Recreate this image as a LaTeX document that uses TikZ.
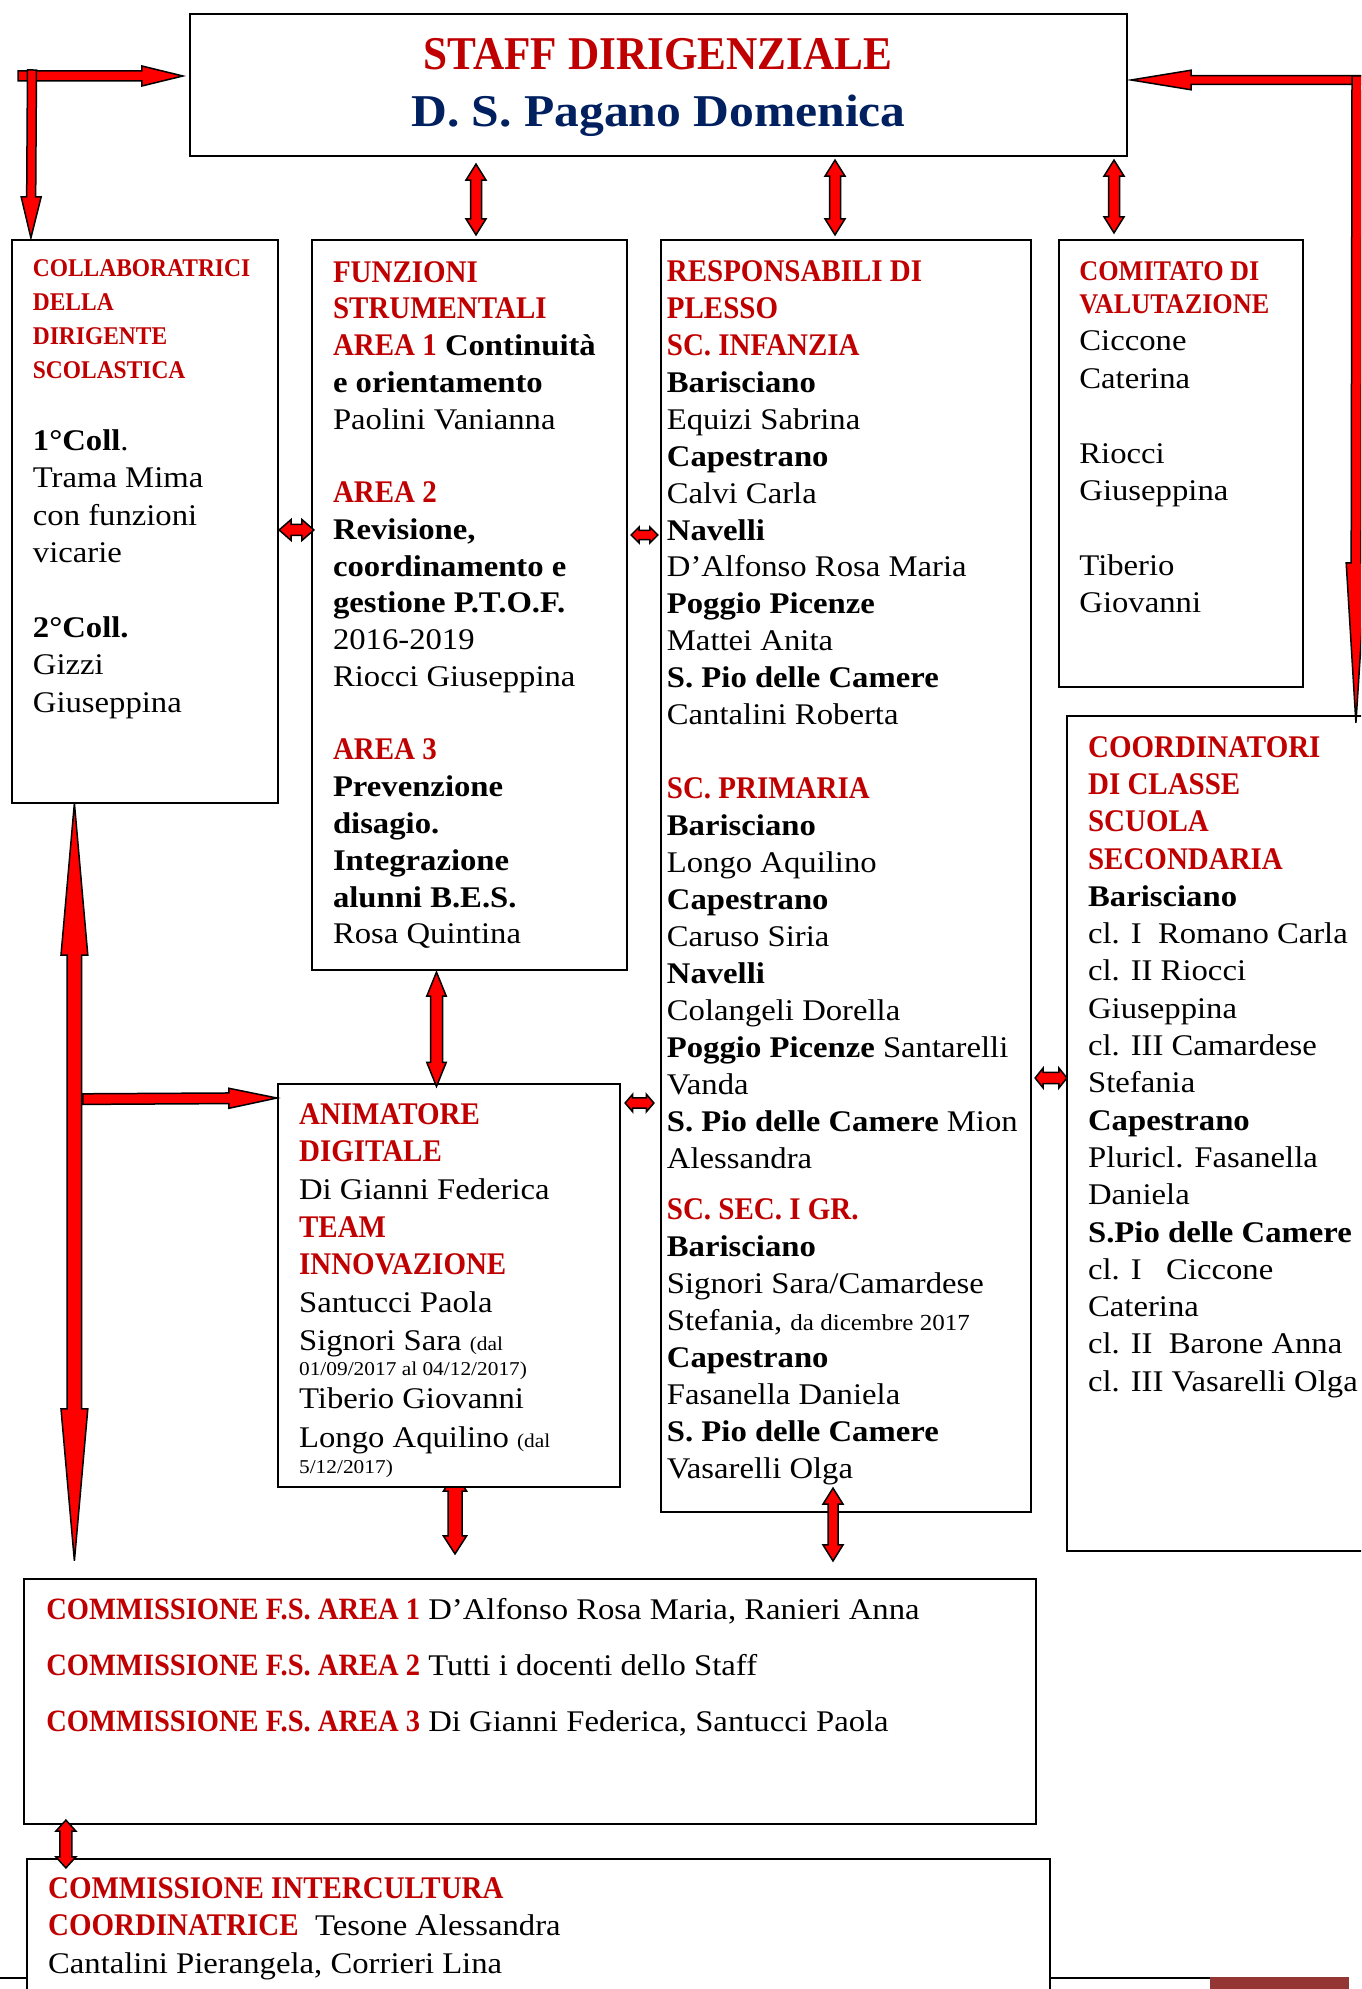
\documentclass[tikz,border=0pt]{standalone}
\usepackage{fontspec}
\setmainfont{Liberation Serif}[FakeStretch=1.09]
\newfontfamily\headfont{Liberation Serif}[FakeStretch=0.92]
\usepackage{tikz}
\usetikzlibrary{calc,fit,backgrounds}
\definecolor{orgRed}{HTML}{C00000}
\definecolor{orgNavy}{HTML}{002060}
\definecolor{orgArrow}{HTML}{FF0000}
\definecolor{orgFoot}{HTML}{943634}
\newcommand{\redhead}[2][15.75]{{\headfont\bfseries\fontsize{#1}{18}\selectfont\color{orgRed}#2}}
\newcommand{\datenote}[1]{{\fontsize{9.8}{12}\selectfont #1}}
% fixed top of the first line: node top = first baseline - 14pt
\newcommand{\topstrut}{\rule{0pt}{14pt}}
\tikzset{
  panel/.style={draw,line width=1.1pt,fill=white,inner sep=0pt},
  txt/.style={anchor=north west,inner sep=0pt,align=left,font=\fontsize{15}{18.45}\selectfont},
  barw/.store in=\barw, headw/.store in=\headw, headl/.store in=\headl,
  barw=2.5pt, headw=5pt, headl=8pt,
  onearrow/.style={draw=black,line width=0.75pt,fill=orgArrow,
    to path={($(\tikztostart)!\barw!-90:(\tikztotarget)$)
      -- ($(\tikztotarget)!\headl!(\tikztostart)!\barw!90:(\tikztostart)$)
      -- ($(\tikztotarget)!\headl!(\tikztostart)!\headw!90:(\tikztostart)$)
      -- (\tikztotarget)
      -- ($(\tikztotarget)!\headl!(\tikztostart)!\headw!-90:(\tikztostart)$)
      -- ($(\tikztotarget)!\headl!(\tikztostart)!\barw!-90:(\tikztostart)$)
      -- ($(\tikztostart)!\barw!90:(\tikztotarget)$) -- cycle}},
  twoarrow/.style={draw=black,line width=0.75pt,fill=orgArrow,
    to path={($(\tikztostart)!\headl!(\tikztotarget)!\barw!-90:(\tikztotarget)$)
      -- ($(\tikztotarget)!\headl!(\tikztostart)!\barw!90:(\tikztostart)$)
      -- ($(\tikztotarget)!\headl!(\tikztostart)!\headw!90:(\tikztostart)$)
      -- (\tikztotarget)
      -- ($(\tikztotarget)!\headl!(\tikztostart)!\headw!-90:(\tikztostart)$)
      -- ($(\tikztotarget)!\headl!(\tikztostart)!\barw!-90:(\tikztostart)$)
      -- ($(\tikztostart)!\headl!(\tikztotarget)!\barw!90:(\tikztotarget)$)
      -- ($(\tikztostart)!\headl!(\tikztotarget)!\headw!90:(\tikztotarget)$)
      -- (\tikztostart)
      -- ($(\tikztostart)!\headl!(\tikztotarget)!\headw!-90:(\tikztotarget)$) -- cycle}}
}

\begin{document}
\begin{tikzpicture}[x=0.5pt,y=-0.5pt]
\path[use as bounding box] (0,0) rectangle (1361,1989);
\clip (0,0) rectangle (1361,1989);
\draw[line width=1.4pt] (0,1978) -- (1210,1978);
\fill[orgFoot] (1210,1977) rectangle (1349,1990);

% boxes
\node[panel,fit={(190,14) (1127,156)}] (staff) {};
\node[panel,fit={(12,240) (278,803)}] (collab) {};
\node[panel,fit={(312,240) (627,970)}] (fs) {};
\node[panel,fit={(661,240) (1031,1512)}] (resp) {};
\node[panel,fit={(1059,240) (1303,687)}] (comit) {};
\node[panel,fit={(1067,716) (1420,1551)}] (coord) {};
\node[panel,fit={(278,1084) (620,1487)}] (anim) {};
\node[panel,fit={(24,1579) (1036,1824)}] (comm) {};
\node[panel,fit={(27,1859) (1050,2020)}] (inter) {};

% texts (y given = first baseline - 28)
\node[anchor=base,inner sep=0pt,text=orgRed,font=\headfont\bfseries\fontsize{23.5}{28}\selectfont] (staff-t1) at (658,70) {STAFF DIRIGENZIALE};
\node[anchor=base,inner sep=0pt,text=orgNavy,font=\bfseries\fontsize{22.75}{28}\selectfont] (staff-t2) at (658.5,126.7) {D. S. Pagano Domenica};

\node[txt,font=\fontsize{12.75}{17}\selectfont] (collab-h) at (32.5,248) {\topstrut\redhead[12.75]{COLLABORATRICI}\\ \redhead[12.75]{DELLA}\\ \redhead[12.75]{DIRIGENTE}\\ \redhead[12.75]{SCOLASTICA}};
\node[txt,font=\fontsize{15}{18.7}\selectfont] (collab-t) at (32.5,422) {\topstrut\textbf{1°Coll}.\\ Trama Mima\\ con funzioni\\ vicarie\\ \\ \textbf{2°Coll.}\\ Gizzi\\ Giuseppina};

\node[txt,font=\fontsize{15}{18.38}\selectfont] (fs-t) at (332.6,253.7) {\topstrut\redhead{FUNZIONI}\\ \redhead{STRUMENTALI}\\ \redhead{AREA 1} \textbf{Continuità}\\ \textbf{e orientamento}\\ Paolini Vanianna\\ \\ \redhead{AREA 2}\\ \textbf{Revisione,}\\ \textbf{coordinamento e}\\ \textbf{gestione P.T.O.F.}\\ 2016-2019\\ Riocci Giuseppina\\ \\ \redhead{AREA 3}\\ \textbf{Prevenzione}\\ \textbf{disagio.}\\ \textbf{Integrazione}\\ \textbf{alunni B.E.S.}\\ Rosa Quintina};

\node[txt,font=\fontsize{15}{18.48}\selectfont] (resp-t) at (666.5,252.9) {\topstrut\redhead{RESPONSABILI DI}\\ \redhead{PLESSO}\\ \redhead{SC. INFANZIA}\\ \textbf{Barisciano}\\ Equizi Sabrina\\ \textbf{Capestrano}\\ Calvi Carla\\ \textbf{Navelli}\\ D’Alfonso Rosa Maria\\ \textbf{Poggio Picenze}\\ Mattei Anita\\ \textbf{S. Pio delle Camere}\\ Cantalini Roberta\\ \\ \redhead{SC. PRIMARIA}\\ \textbf{Barisciano}\\ Longo Aquilino\\ \textbf{Capestrano}\\ Caruso Siria\\ \textbf{Navelli}\\ Colangeli Dorella\\ \textbf{Poggio Picenze} Santarelli\\ Vanda\\ \textbf{S. Pio delle Camere} Mion\\ Alessandra\\[7pt] \redhead{SC. SEC. I GR.}\\ \textbf{Barisciano}\\ Signori Sara/Camardese\\ Stefania, {\fontsize{11.5}{14}\selectfont da dicembre 2017}\\ \textbf{Capestrano}\\ Fasanella Daniela\\ \textbf{S. Pio delle Camere}\\ Vasarelli Olga};

\node[txt,font=\fontsize{14.25}{16.8}\selectfont] (comit-h) at (1079,251.8) {\topstrut\redhead[14.25]{COMITATO DI}\\ \redhead[14.25]{VALUTAZIONE}};
\node[txt,font=\fontsize{15}{18.7}\selectfont] (comit-t) at (1079,322.5) {\topstrut Ciccone\\ Caterina\\ \\ Riocci\\ Giuseppina\\ \\ Tiberio\\ Giovanni};

\node[txt,font=\fontsize{15}{18.65}\selectfont] (coord-t) at (1087.7,728.7) {\topstrut\redhead{COORDINATORI}\\ \redhead{DI CLASSE}\\ \redhead{SCUOLA}\\ \redhead{SECONDARIA}\\ \textbf{Barisciano}\\ cl. I\ \ Romano Carla\\ cl. II Riocci\\ Giuseppina\\ cl. III Camardese\\ Stefania\\ \textbf{Capestrano}\\ Pluricl. Fasanella\\ Daniela\\ \textbf{S.Pio delle Camere}\\ cl. I\ \ \ Ciccone\\ Caterina\\ cl. II\ \ Barone Anna\\ cl. III Vasarelli Olga};

\node[txt,font=\fontsize{15}{18.85}\selectfont] (anim-t) at (298.7,1095.7) {\topstrut\redhead{ANIMATORE}\\ \redhead{DIGITALE}\\ Di Gianni Federica\\ \redhead{TEAM}\\ \redhead{INNOVAZIONE}\\ Santucci Paola\\ Signori Sara \datenote{(dal}\\[-6.1pt] \datenote{01/09/2017 al 04/12/2017)}\\[-2.35pt] Tiberio Giovanni\\[0.4pt] Longo Aquilino \datenote{(dal}\\[-6pt] \datenote{5/12/2017)}};

\node[txt,font=\fontsize{15}{27.9}\selectfont] (comm-t) at (46,1591) {\topstrut\redhead[15.5]{COMMISSIONE F.S. AREA 1} D’Alfonso Rosa Maria, Ranieri Anna\\ \redhead[15.5]{COMMISSIONE F.S. AREA 2} Tutti i docenti dello Staff\\ \redhead[15.5]{COMMISSIONE F.S. AREA 3} Di Gianni Federica, Santucci Paola};

\node[txt,font=\fontsize{15}{18.7}\selectfont] (inter-t) at (47.7,1870) {\topstrut\redhead{COMMISSIONE INTERCULTURA}\\ \redhead{COORDINATRICE}\ \ Tesone Alessandra\\ Cantalini Pierangela, Corrieri Lina};

% arrows
\coordinate (tlcorner) at (32,76);
\coordinate (trcorner) at (1357,80);
\draw[onearrow,barw=2.5pt,headw=5pt,headl=20.5pt] ($(tlcorner)+(-14,0)$) to ($(staff.west)+(-6,-9)$);
\draw[onearrow,barw=2.25pt,headw=5pt,headl=20.5pt] ($(tlcorner)+(0,-6)$) to ($(collab.north west)+(20,-1)$);
\draw[onearrow,barw=2.2pt,headw=4.9pt,headl=30pt] ($(trcorner)+(10,0)$) to ($(staff.east)+(3,-5)$);
\draw[onearrow,barw=2.5pt,headw=5pt,headl=80pt] ($(trcorner)+(0,-4)$) to ($(coord.north west)+(290,8)$);

\draw[twoarrow,barw=2.75pt,headw=5pt,headl=8pt] ($(staff.south)+(-182.5,7)$) to ($(fs.north)+(6.5,-4)$);
\draw[twoarrow,barw=2.75pt,headw=5pt,headl=8pt] ($(staff.south)+(176.5,3)$) to ($(resp.north)+(-11,-4)$);
\draw[twoarrow,barw=2.75pt,headw=5pt,headl=8pt] ($(staff.south)+(455.5,3)$) to ($(comit.north)+(-67,-6)$);

\draw[twoarrow,barw=2.75pt,headw=5.25pt,headl=6pt] ($(collab.east)+(0,8.5)$) to ($(fs.west)+(3,-75)$);
\draw[twoarrow,barw=2.3pt,headw=4pt,headl=4pt] ($(fs.east)+(3,-70)$) to ($(resp.west)+(-2,-341)$);
\draw[twoarrow,barw=2.6pt,headw=4.4pt,headl=3.8pt] ($(anim.east)+(4,-182.5)$) to ($(resp.west)+(-6,227)$);
\draw[twoarrow,barw=2.8pt,headw=5pt,headl=4pt] ($(resp.east)+(3,202)$) to ($(coord.west)+(1,-55.5)$);

\draw[twoarrow,barw=3pt,headw=4.85pt,headl=12pt] ($(fs.south)+(-33,1)$) to ($(anim.north)+(-12.5,3.5)$);
\draw[twoarrow,barw=2.5pt,headw=5pt,headl=8pt] ($(resp.south)+(-13,-25)$) to ($(comm.north)+(303,-17)$);
\draw[twoarrow,barw=3pt,headw=5pt,headl=5.5pt] ($(comm.south west)+(43,-5)$) to ($(inter.north west)+(40,10)$);

\draw[twoarrow,barw=3.65pt,headw=6.7pt,headl=76pt] ($(collab.south west)+(63.5,-1)$) to ($(comm.north west)+(51.5,-17)$);
\draw[onearrow,barw=2.65pt,headw=5pt,headl=24pt] ($(collab.south west)+(72,295)$) to ($(anim.west)+(0,-187.5)$);

\begin{pgfonlayer}{background}
\draw[twoarrow,barw=3.5pt,headw=5.8pt,headl=9pt] ($(anim.south)+(6,-15)$) to ($(comm.north)+(-75,-24)$);
\end{pgfonlayer}
\end{tikzpicture}
\end{document}
